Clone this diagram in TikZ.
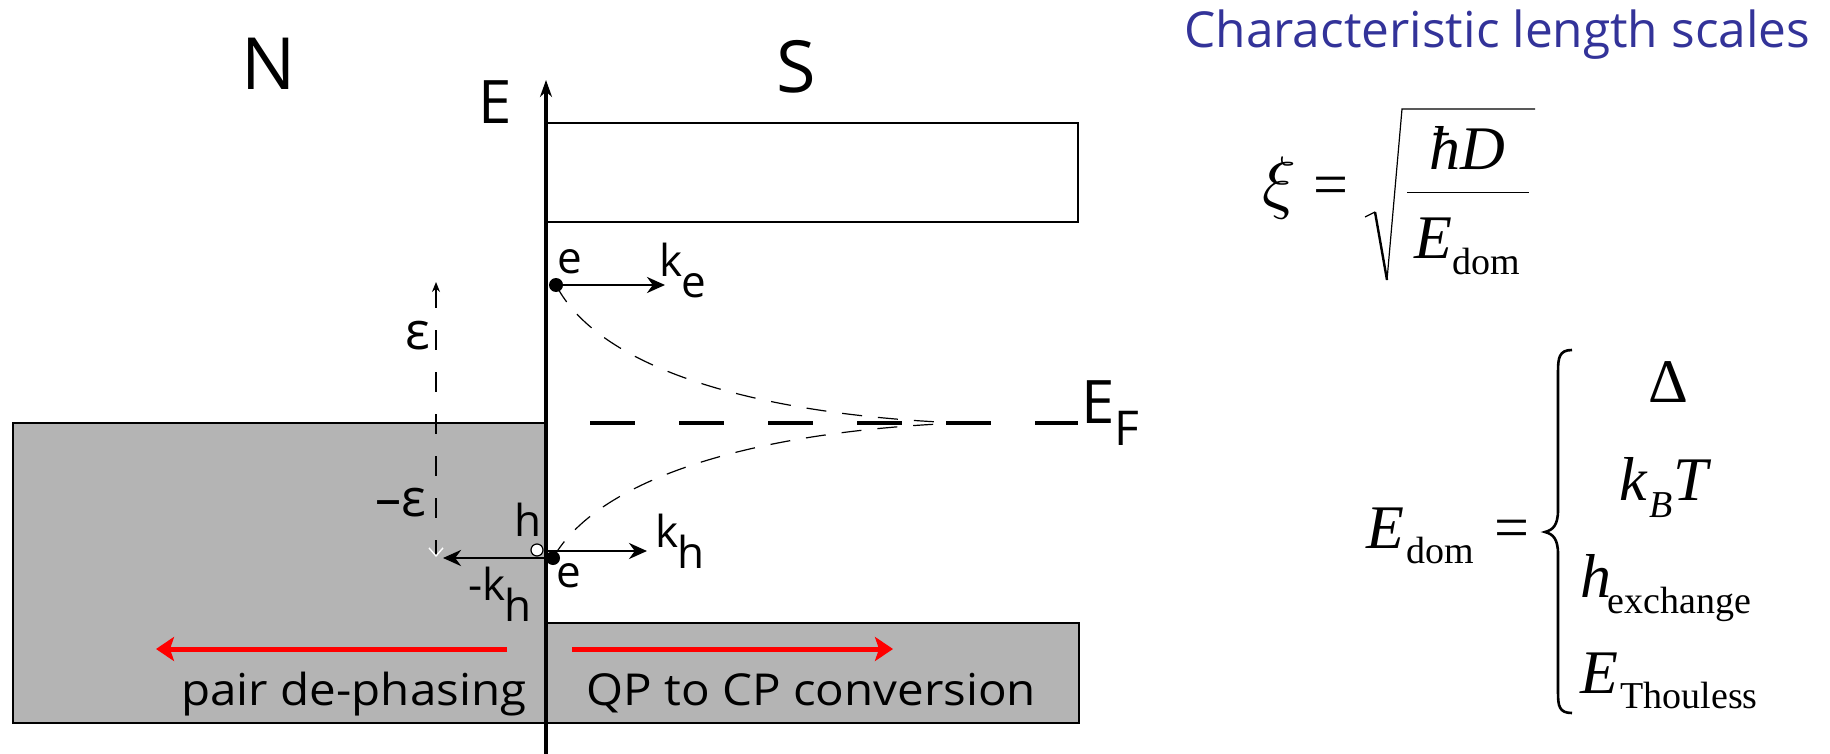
\documentclass[tikz,border=0pt]{standalone}
\usepackage{fontspec}
\setmainfont{Open Sans}
\newfontfamily\tms{Liberation Serif}
\usetikzlibrary{arrows.meta}
\definecolor{ttl}{RGB}{51,51,153}
\definecolor{band}{RGB}{180,180,180}
\begin{document}
\begin{tikzpicture}[x=0.5pt,y=-0.5pt,
  lbl/.style={inner sep=0pt, font=\fontsize{22}{22}\selectfont},
  bigl/.style={inner sep=0pt, font=\fontsize{36}{36}\selectfont},
  bandbox/.style={draw=black, line width=1.4pt},
  kar/.style={line width=1.45pt, -{Stealth[length=9pt,width=8pt]}},
  redar/.style={red, line width=2.5pt, -{Stealth[length=9pt,width=12pt,inset=2pt]}},
  thindash/.style={line width=0.6pt, dash pattern=on 10pt off 8pt},
  mtxt/.style={inner sep=0pt, font={\tms\fontsize{31}{31}\selectfont\itshape}},
  mup/.style={inner sep=0pt, font={\tms\fontsize{31}{31}\selectfont}},
  msub/.style={inner sep=0pt, font={\tms\fontsize{19}{19}\selectfont}},
  msubit/.style={inner sep=0pt, font={\tms\fontsize{19}{19}\selectfont\itshape}},
  captxt/.style={inner sep=0pt, font=\fontsize{22}{22}\selectfont},
]
\useasboundingbox (0,0) rectangle (1830,754);
% bands
\filldraw[bandbox, fill=band] (13,423) rectangle (546,723);
\filldraw[bandbox, fill=band] (546,623) rectangle (1079,723);
\draw[bandbox, fill=white] (546,123) rectangle (1078,222);
% energy axis
\coordinate (axb) at (546,754);
\coordinate (axt) at (546,80);
\draw[line width=1.6pt, -{Stealth[length=8.5pt,width=6pt]}] (axb) -- (axt);
\node[inner sep=0pt, font=\fontsize{30}{30}\selectfont] (Elab) at (495,102) {E};
\node[bigl] (N) at (269,64) {N};
\node[bigl] (S) at (796,67) {S};
% Fermi level
\coordinate (ef0) at (590,423);
\coordinate (ef1) at (1078,423);
\draw[line width=1.8pt, dash pattern=on 22.5pt off 22pt] (ef0) -- (ef1);
\node[inner sep=0pt, anchor=base west, font=\fontsize{30}{30}\selectfont] (EF) at (1081,423) {E\raisebox{-11pt}{\fontsize{24}{24}\selectfont F}};
% particle positions
\coordinate (pe1) at (556,285);
\coordinate (pe2) at (553,558);
\coordinate (ph) at (537,550);
\coordinate (conv) at (960,423);
\draw[thindash] (pe1) .. controls (600,370) and (760,415) .. (conv);
\draw[thindash] (pe2) .. controls (600,476) and (760,431) .. (conv);
% epsilon axis
\coordinate (epst) at (436,282);
\coordinate (epsb) at (436,557);
\draw[line width=0.7pt, dash pattern=on 10pt off 11pt, {Stealth[length=5pt,width=4pt]}-{Straight Barb[color=white,length=4pt,width=7pt]}] (epst) -- (epsb);
\node[inner sep=0pt, font=\fontsize{26}{26}\selectfont] (eps) at (418,336) {ε};
\node[inner sep=0pt, font=\fontsize{26}{26}\selectfont] (meps) at (401,503) {–ε};
% momentum arrows
\coordinate (ke) at (665,285);
\draw[kar] (pe1) -- (ke);
\coordinate (khs) at (547,551);
\coordinate (khe) at (647,551);
\draw[kar] (khs) -- (khe);
\coordinate (mks) at (546,558);
\coordinate (mke) at (443,558);
\draw[kar] (mks) -- (mke);
% dots
\node[circle, fill=black, inner sep=0pt, minimum size=7pt] (edot1) at (pe1) {};
\node[circle, draw=black, fill=white, line width=0.6pt, inner sep=0pt, minimum size=6pt] (hole) at (ph) {};
\node[circle, fill=black, inner sep=0pt, minimum size=7pt] (edot2) at (pe2) {};
% labels
\node[lbl] (elab1) at (570,262) {e};
\node[lbl, anchor=base west] (kelab) at (659,277) {k\hspace{-0.5pt}\raisebox{-10.5pt}{e}};
\node[lbl, anchor=base west] (khlab) at (655,547) {k\hspace{-0.5pt}\raisebox{-10.5pt}{h}};
\node[lbl, anchor=base west] (mkhlab) at (468,600) {-k\hspace{-0.5pt}\raisebox{-10.5pt}{h}};
\node[lbl] (hlab) at (528,520) {h};
\node[lbl] (elab2) at (569,576) {e};
% red arrows
\coordinate (ra0) at (507,649);
\coordinate (ra1) at (156,649);
\draw[redar] (ra0) -- (ra1);
\coordinate (rb0) at (572,649);
\coordinate (rb1) at (893,649);
\draw[redar] (rb0) -- (rb1);
\node[captxt, anchor=base west] (pd) at (181,705) {\scalebox{1.08}[1]{pair de-phasing}};
\node[captxt, anchor=base west] (qp) at (586,705) {\scalebox{1.08}[1]{QP to CP conversion}};
% title
\node[inner sep=0pt, anchor=base west, text=ttl, font=\fontsize{24.8}{24.8}\selectfont] (title) at (1184,48) {Characteristic length scales};
% xi formula
\node[inner sep=0pt, anchor=base west] (xi) at (1262,206) {\scalebox{3.5}{$\xi$}};
\node[mup, anchor=base west] (eq1) at (1313,206) {=};
\draw[line width=0.6pt] (1365,217) -- (1375,212);
\draw[line width=1.2pt] (1375,212) -- (1387,280);
\draw[line width=0.6pt] (1387,280) -- (1402,109) -- (1535,109);
\draw[line width=0.5pt] (1407,193) -- (1529,193);
\node[mtxt, anchor=base west] (hD) at (1429,170) {ħD};
\node[mtxt, anchor=base west] (E1) at (1414,258) {E};
\node[msub, anchor=base west] (dom1) at (1452,275) {dom};
% Edom formula
\node[mtxt, anchor=base west] (E2) at (1366,548) {E};
\node[msub, anchor=base west] (dom2) at (1406,563) {dom};
\node[mup, anchor=base west] (eq2) at (1494,548) {=};
\draw[line width=1.3pt] (1572,350) .. controls (1559,350) and (1558,358) .. (1558,372) -- (1558,510)
  .. controls (1558,525) and (1553,530) .. (1545,532)
  .. controls (1553,534) and (1558,539) .. (1558,554) -- (1558,692)
  .. controls (1558,706) and (1559,713) .. (1572,713);
\node[mup, anchor=base] (Delta) at (1668,402) {Δ};
\node[mtxt, anchor=base west] (kk) at (1619,500) {k};
\node[msubit, anchor=base west] (B) at (1649,517) {B};
\node[mtxt, anchor=base west] (T) at (1673,500) {T};
\node[mtxt, anchor=base west] (hh) at (1580,597) {h};
\node[msub, anchor=base west] (exch) at (1607,613) {exchange};
\node[mtxt, anchor=base west] (E3) at (1580,693) {E};
\node[msub, anchor=base west] (thou) at (1620,708) {Thouless};
\end{tikzpicture}
\end{document}
